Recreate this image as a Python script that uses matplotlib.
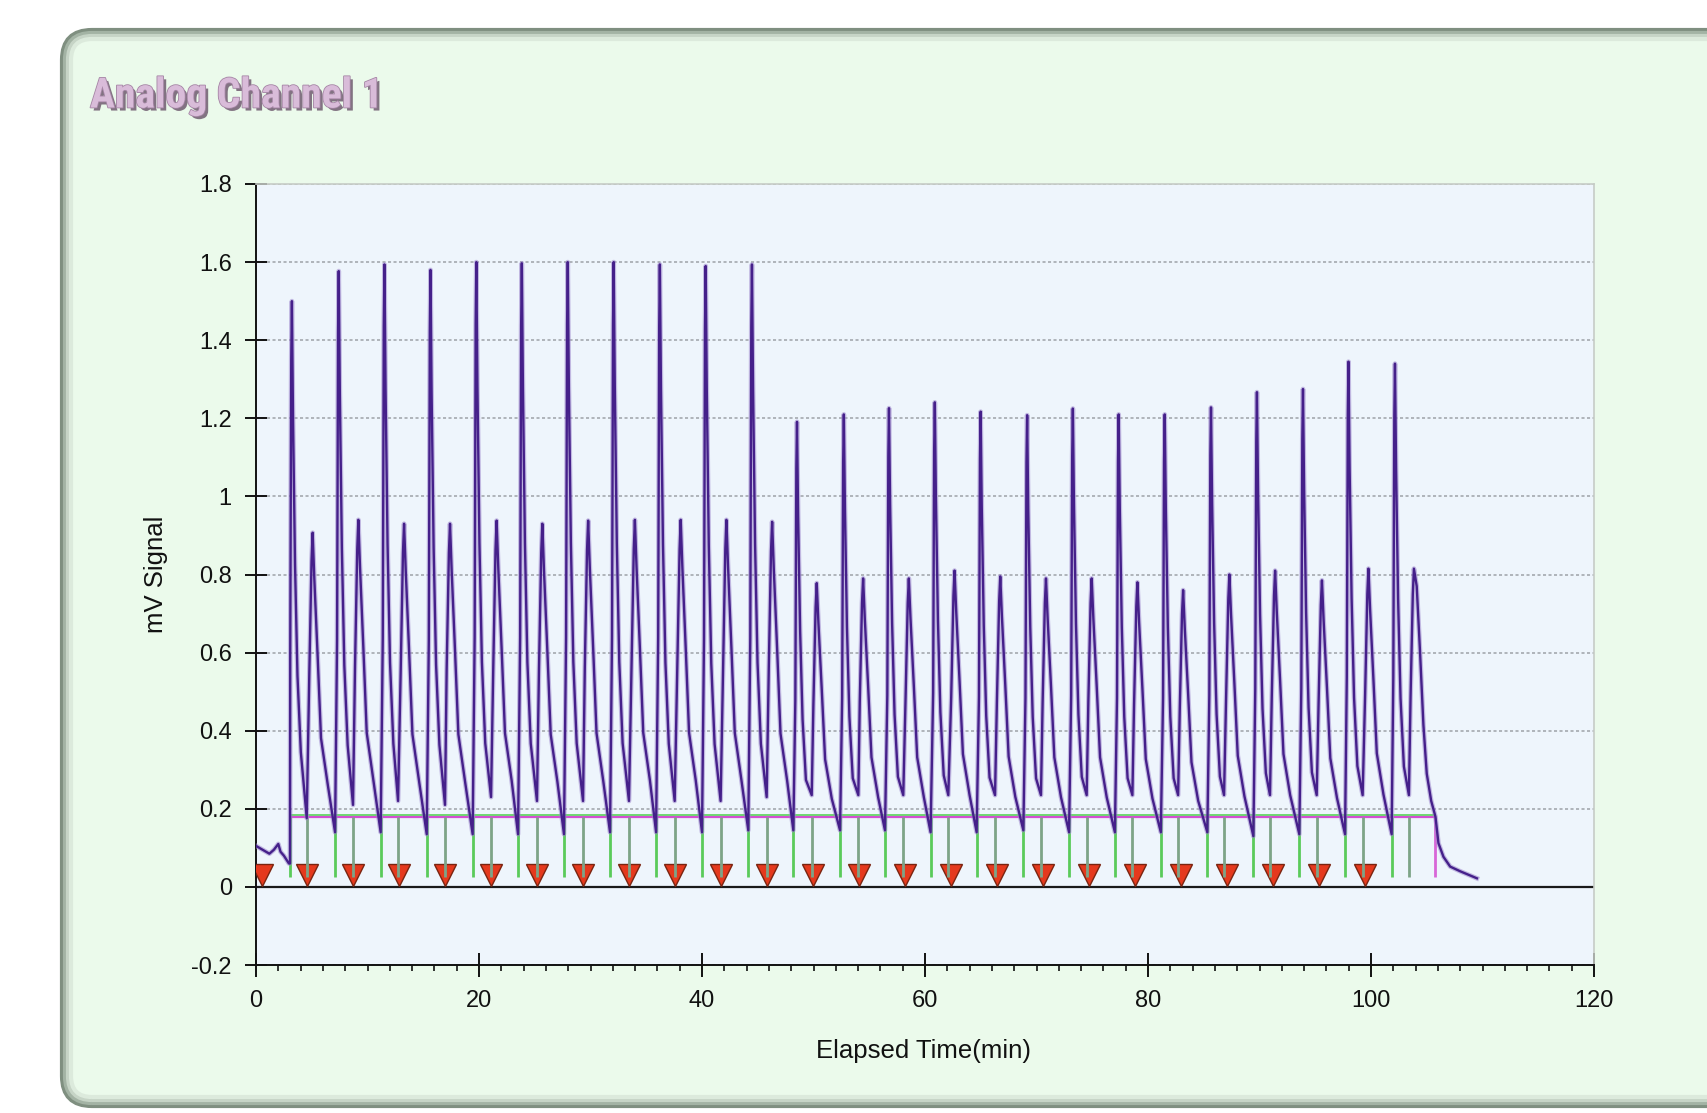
import numpy as np
import matplotlib
matplotlib.use("Agg")
import matplotlib.pyplot as plt
from matplotlib import font_manager as fm
from matplotlib import transforms as mtransforms
from matplotlib import patheffects as pe
from matplotlib.patches import FancyBboxPatch
from matplotlib.ticker import FixedLocator, FixedFormatter, MultipleLocator

# ------------------------------------------------------------------ data
title = "Analog Channel 1"
x_label = "Elapsed Time(min)"
y_label = "mV Signal"
x_ticks = [0, 20, 40, 60, 80, 100, 120]
x_tick_labels = ["0", "20", "40", "60", "80", "100", "120"]
y_ticks = [-0.2, 0, 0.2, 0.4, 0.6, 0.8, 1.0, 1.2, 1.4, 1.6, 1.8]
y_tick_labels = ["-0.2", "0", "0.2", "0.4", "0.6", "0.8", "1", "1.2", "1.4", "1.6", "1.8"]

# signal before the first injection peak
pre_t = [0.0, 0.6, 1.2, 1.6, 2.0, 2.2, 2.5, 2.95]
pre_v = [0.105, 0.095, 0.085, 0.095, 0.11, 0.09, 0.08, 0.06]

# per cycle: peak start (valley), big peak apex, split valley, small peak apex
start_t = [3.05, 7.09, 11.18, 15.31, 19.43, 23.5, 27.62, 31.75, 35.88, 40.0,
           44.15, 48.19, 52.38, 56.41, 60.5, 64.63, 68.82, 72.92, 77.03, 81.15,
           85.32, 89.45, 93.57, 97.67, 101.85]
start_v = [0.06, 0.14, 0.14, 0.135, 0.135, 0.135, 0.135, 0.14, 0.14, 0.14,
           0.145, 0.145, 0.145, 0.145, 0.14, 0.14, 0.145, 0.14, 0.14, 0.14,
           0.14, 0.13, 0.135, 0.135, 0.135]
big_t = [3.22, 7.42, 11.52, 15.65, 19.76, 23.84, 27.96, 32.08, 36.22, 40.33,
         44.48, 48.52, 52.72, 56.77, 60.88, 64.99, 69.16, 73.26, 77.37, 81.5,
         85.65, 89.77, 93.9, 97.98, 102.15]
big_h = [1.50, 1.577, 1.594, 1.58, 1.60, 1.597, 1.60, 1.60, 1.594, 1.59,
         1.594, 1.191, 1.21, 1.226, 1.241, 1.217, 1.208, 1.225, 1.21, 1.21,
         1.228, 1.267, 1.275, 1.345, 1.34]
mid_t = [4.55, 8.7, 12.74, 16.95, 21.08, 25.2, 29.33, 33.45, 37.55, 41.67,
         45.8, 49.84, 54.02, 58.05, 62.09, 66.28, 70.4, 74.5, 78.6, 82.7,
         86.82, 90.94, 95.13, 99.25, 103.4]
mid_v = [0.176, 0.21, 0.22, 0.21, 0.23, 0.22, 0.22, 0.22, 0.22, 0.22,
         0.23, 0.235, 0.235, 0.235, 0.235, 0.235, 0.235, 0.235, 0.235, 0.235,
         0.235, 0.235, 0.235, 0.235, 0.235]
small_t = [5.08, 9.18, 13.28, 17.4, 21.58, 25.68, 29.79, 33.98, 38.09, 42.19,
           46.29, 50.29, 54.45, 58.55, 62.65, 66.75, 70.85, 74.95, 79.05, 83.15,
           87.3, 91.4, 95.6, 99.77, 103.85]
small_h = [0.907, 0.94, 0.93, 0.93, 0.938, 0.93, 0.938, 0.94, 0.94, 0.94,
           0.935, 0.778, 0.79, 0.79, 0.81, 0.795, 0.79, 0.79, 0.78, 0.76,
           0.80, 0.81, 0.785, 0.815, 0.815]

# typical peak profile read off one peak (time offset from apex, fraction of apex height)
big_shape_dt = [-0.15, -0.06, 0.0, 0.1, 0.28, 0.5, 0.8]
big_shape_f = [0.40, 0.90, 1.0, 0.80, 0.55, 0.36, 0.23]
small_shape_dt = [-0.3, -0.1, 0.0, 0.15, 0.45, 0.75, 1.35]
small_shape_f = [0.60, 0.92, 1.0, 0.87, 0.65, 0.42, 0.29]

# tail after the last peak
tail_t = [104.1, 104.4, 104.7, 105.0, 105.4, 105.78, 106.05, 106.5, 107.1, 108.0, 109.5]
tail_v = [0.77, 0.60, 0.415, 0.29, 0.22, 0.18, 0.112, 0.077, 0.052, 0.04, 0.022]

# injection markers
inject_t = [0.51, 4.6, 8.73, 12.85, 16.95, 21.08, 25.17, 29.3, 33.43, 37.55,
            41.68, 45.8, 49.98, 54.11, 58.21, 62.3, 66.43, 70.55, 74.68, 78.8,
            82.92, 87.06, 91.24, 95.37, 99.46]

baseline_level = 0.18
event_bottom = 0.025
end_t = 105.78

# ------------------------------------------------------------------ build trace
trace_t = list(pre_t)
trace_v = list(pre_v)
n = len(big_t)
for i in range(n):
    trace_t.append(start_t[i]); trace_v.append(start_v[i])
    for dt, f in zip(big_shape_dt, big_shape_f):
        trace_t.append(big_t[i] + dt); trace_v.append(f * big_h[i])
    trace_t.append(mid_t[i]); trace_v.append(mid_v[i])
    if i < n - 1:
        for dt, f in zip(small_shape_dt, small_shape_f):
            trace_t.append(small_t[i] + dt); trace_v.append(f * small_h[i])
    else:
        for dt, f in zip(small_shape_dt[:3], small_shape_f[:3]):
            trace_t.append(small_t[i] + dt); trace_v.append(f * small_h[i])
        trace_t += tail_t
        trace_v += tail_v

# ------------------------------------------------------------------ figure
plt.rcParams["font.family"] = ["Liberation Sans", "DejaVu Sans"]
W, H = 1707, 1113
fig = plt.figure(figsize=(W / 100, H / 100), dpi=100, facecolor="white")

# rounded panel
ident = mtransforms.IdentityTransform()
panel_layers = [
    (0, "#7f8f80", "#ebfaeb", 3.0),
    (3, "#a3b3a4", "none", 3.0),
    (6, "#c6d4c6", "none", 3.0),
    (9, "#dceadc", "none", 3.0),
]
for inset, ec, fc, lw in panel_layers:
    p = FancyBboxPatch((62 + inset, 7 + inset), W, 1076 - 2 * inset,
                       boxstyle="round,pad=0,rounding_size=%d" % (30 - inset),
                       transform=ident, facecolor=fc, edgecolor=ec, linewidth=lw,
                       zorder=0)
    fig.add_artist(p)

# title font: a bold condensed sans if one is installed
entries = fm.fontManager.ttflist
names = {f.name for f in entries}
if "Roboto Condensed" in names:
    tkw = dict(family="Roboto Condensed")
elif "Liberation Sans Narrow" in names:
    tkw = dict(family="Liberation Sans Narrow")
elif any(f.name == "DejaVu Sans" and "condensed" in str(f.stretch).lower()
         and "bold" in str(f.weight).lower() + f.fname.lower() for f in entries):
    tkw = dict(family="DejaVu Sans", fontstretch="condensed")
else:
    tkw = dict(family="Roboto")
renderer = fig.canvas.get_renderer()
t = fig.text(0, 0, title, fontsize=30, fontweight="bold", **tkw)
w30 = t.get_window_extent(renderer).width
t.remove()
title_size = min(30 * 293.0 / w30, 31)
fig.text(90 / W, 1 - 96 / H, title, fontsize=title_size, fontweight="bold",
         color="#d9bcd9", ha="left", va="center",
         path_effects=[pe.withSimplePatchShadow(offset=(2.2, -2.2), shadow_rgbFace="#7c6c7c", alpha=0.95),
                       pe.Stroke(linewidth=1.2, foreground="#a585a5"), pe.Normal()],
         zorder=5, **tkw)

ax = fig.add_axes([256 / W, 148 / H, 1338 / W, 781 / H])
ax.set_facecolor("#eef5fc")
ax.set_xlim(0, 120)
ax.set_ylim(-0.2, 1.8)

for s in ("top", "right"):
    ax.spines[s].set_color("#c6ccc6")
    ax.spines[s].set_linewidth(1.2)
for s in ("left", "bottom"):
    ax.spines[s].set_color("#111111")
    ax.spines[s].set_linewidth(1.4)

ax.xaxis.set_major_locator(FixedLocator(x_ticks))
ax.xaxis.set_major_formatter(FixedFormatter(x_tick_labels))
ax.xaxis.set_minor_locator(MultipleLocator(2))
ax.yaxis.set_major_locator(FixedLocator(y_ticks))
ax.yaxis.set_major_formatter(FixedFormatter(y_tick_labels))
ax.tick_params(axis="y", which="major", direction="inout", length=16, width=1.4,
               pad=9.4, labelsize=17, colors="#111111")
ax.tick_params(axis="x", which="major", direction="inout", length=17, width=1.4,
               pad=9.5, labelsize=17, colors="#111111")
ax.tick_params(axis="x", which="minor", direction="out", length=4.5, width=1.2,
               colors="#111111")

ax.yaxis.grid(True, linestyle=(0, (2, 1.6)), color="#9ea2a8", linewidth=1.1, zorder=0.5)
ax.set_axisbelow(True)

ax.set_xlabel(x_label, fontsize=18.5, va="center", color="#111111")
ax.xaxis.set_label_coords(0.499, -0.1096)
ax.set_ylabel(y_label, fontsize=18.5, va="center", color="#111111")
ax.yaxis.set_label_coords(-0.0747, 0.5)

# zero line
ax.axhline(0, color="#1a1a1a", linewidth=1.6, zorder=2.5)

# injection markers, tip sitting on the zero line
ms = 16.5
tri_tr = ax.transData + mtransforms.ScaledTranslation(0, ms / 2 / 72, fig.dpi_scale_trans)
ax.plot(inject_t, np.zeros(len(inject_t)), linestyle="none", marker="v", markersize=ms,
        markerfacecolor="#e5391d", markeredgecolor="#7a2410", markeredgewidth=1.0,
        transform=tri_tr, zorder=3)

# baseline and event lines
up = ax.transData + mtransforms.ScaledTranslation(0, 1.8 / 100, fig.dpi_scale_trans)
ax.hlines([baseline_level], start_t[0], end_t, colors="#d34fd3", linewidth=1.6, zorder=3.4)
ax.hlines([baseline_level], start_t[0], end_t, colors="#5ad25a", linewidth=1.2, zorder=3.4,
          transform=up)
ax.vlines(start_t, event_bottom, baseline_level, colors="#5acb5a", linewidth=2.0, zorder=3.5)
ax.vlines(mid_t, event_bottom, baseline_level, colors="#7da487", linewidth=2.0, zorder=3.5)
ax.vlines([end_t], event_bottom, baseline_level, colors="#d866d8", linewidth=2.0, zorder=3.5)

# signal trace
ax.plot(trace_t, trace_v, color="#9c86cc", linewidth=3.4, alpha=0.55, zorder=4,
        solid_joinstyle="round")
ax.plot(trace_t, trace_v, color="#45208a", linewidth=1.7, zorder=4.1,
        solid_joinstyle="round")

fig.savefig("out.png", dpi=100, facecolor="white")
